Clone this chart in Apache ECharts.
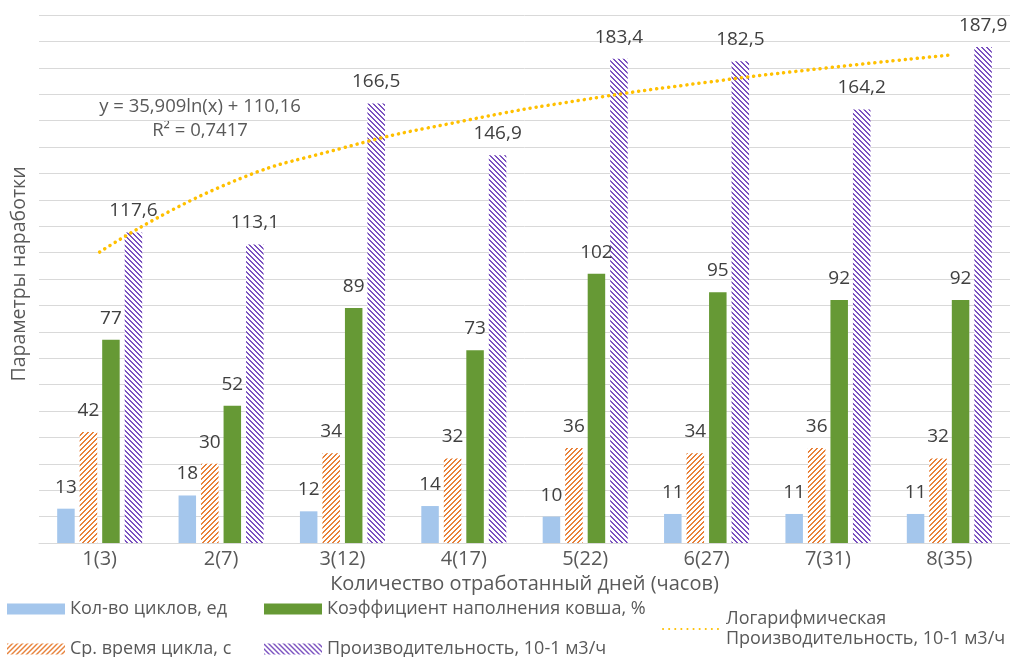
<!DOCTYPE html>
<html>
<head>
<meta charset="utf-8">
<script src="https://cdn.jsdelivr.net/npm/echarts@6/dist/echarts.min.js"></script>
<style>
  html, body { margin: 0; padding: 0; background: #fff; }
  #chart { width: 1010px; height: 657px; }
</style>
</head>
<body>
<div id="chart"></div>
<script>
// данные с графика
const categories = ['1(3)', '2(7)', '3(12)', '4(17)', '5(22)', '6(27)', '7(31)', '8(35)'];
const cycles = [13, 18, 12, 14, 10, 11, 11, 11];
const cycleTime = [42, 30, 34, 32, 36, 34, 36, 32];
const fillRatio = [77, 52, 89, 73, 102, 95, 92, 92];
const productivity = [117.6, 113.1, 166.5, 146.9, 183.4, 182.5, 164.2, 187.9];
// линия тренда (как видна на рисунке)
const trend = [110.2, 135.0, 149.6, 159.9, 168.0, 174.5, 180.0, 184.8];

const FONT = '"Open Sans", sans-serif';

// штриховка как в Excel
function hatch(color, up) {
    const size = 5;
    const c = document.createElement('canvas');
    c.width = size;
    c.height = size;
    const ctx = c.getContext('2d');
    ctx.fillStyle = '#fff';
    ctx.fillRect(0, 0, size, size);
    ctx.fillStyle = color;
    for (let i = 0; i < size; i++) {
        let y = up ? size - 1 - i : i;
        ctx.fillRect(i, y, 1, 1);
        ctx.fillRect(i, (y + 1) % size, 1, 1);
    }
    return { image: c, repeat: 'repeat' };
}

const labelCfg = {
    show: true,
    position: 'top',
    distance: 12,
    fontFamily: FONT,
    fontSize: 19,
    color: '#404040',
    formatter: p => String(p.value).replace('.', ',')
};

const chart = echarts.init(document.getElementById('chart'));

const legendBase = {
    selectedMode: false,
    icon: 'rect',
    itemWidth: 58,
    itemHeight: 11,
    textStyle: { fontFamily: FONT, fontSize: 18, color: '#595959' }
};

const option = {
    backgroundColor: '#fff',
    animation: false,
    grid: { left: 39, top: 15, width: 975, bottom: 114 },
    legend: [
        Object.assign({}, legendBase, { left: 2, top: 595, data: ['Кол-во циклов, ед'] }),
        Object.assign({}, legendBase, { left: 259, top: 595, data: ['Коэффициент наполнения ковша, %'] }),
        Object.assign({}, legendBase, { left: 2, top: 635, data: ['Ср. время цикла, с'] }),
        Object.assign({}, legendBase, { left: 259, top: 635, data: ['Производительность, 10-1 м3/ч'] }),
        {
            selectedMode: false,
            left: 657, top: 604,
            itemWidth: 58,
            itemHeight: 6,
            itemStyle: { color: 'rgba(0,0,0,0)', borderWidth: 0 },
            data: ['Логарифмическая (Производительность, 10-1 м3/ч)'],
            formatter: () => 'Логарифмическая\nПроизводительность, 10-1 м3/ч',
            textStyle: { fontFamily: FONT, fontSize: 18, color: '#595959', lineHeight: 20 }
        }
    ],
    xAxis: {
        type: 'category',
        data: categories,
        name: 'Количество отработанный дней (часов)',
        nameLocation: 'middle',
        nameGap: 28,
        nameTextStyle: { fontFamily: FONT, fontSize: 20, color: '#595959' },
        axisLine: { lineStyle: { color: '#d9d9d9' } },
        axisTick: { show: false },
        axisLabel: { fontFamily: FONT, fontSize: 20, color: '#595959', margin: 6 }
    },
    yAxis: {
        type: 'value',
        min: 0,
        max: 200,
        interval: 10,
        name: 'Параметры наработки',
        nameLocation: 'middle',
        nameGap: 10,
        nameTextStyle: { fontFamily: FONT, fontSize: 19.5, color: '#595959', padding: [0, 0, 0, 10] },
        axisLabel: { show: false },
        axisLine: { show: false },
        axisTick: { show: false },
        splitLine: { lineStyle: { color: '#d9d9d9' } }
    },
    graphic: [{
        type: 'text',
        left: 200 - 120,
        top: 95,
        style: {
            text: 'y = 35,909ln(x) + 110,16\nR² = 0,7417',
            font: '18.5px ' + FONT,
            fill: '#595959',
            textAlign: 'center',
            lineHeight: 24,
            width: 240
        }
    }],
    series: [
        {
            name: 'Кол-во циклов, ед',
            type: 'bar',
            data: cycles,
            barWidth: 17.5,
            barGap: '28.6%',
            itemStyle: { color: '#a4c6ec' },
            label: labelCfg
        },
        {
            name: 'Ср. время цикла, с',
            type: 'bar',
            data: cycleTime,
            barWidth: 17.5,
            barGap: '28.6%',
            itemStyle: { color: hatch('#e8823a', true) },
            label: labelCfg
        },
        {
            name: 'Коэффициент наполнения ковша, %',
            type: 'bar',
            data: fillRatio,
            barWidth: 17.5,
            barGap: '28.6%',
            itemStyle: { color: '#669935' },
            label: labelCfg
        },
        {
            name: 'Производительность, 10-1 м3/ч',
            type: 'bar',
            data: productivity,
            barWidth: 17.5,
            barGap: '28.6%',
            itemStyle: { color: hatch('#7b52c0', false) },
            label: labelCfg
        },
        {
            name: 'Логарифмическая (Производительность, 10-1 м3/ч)',
            type: 'line',
            data: trend,
            smooth: true,
            symbol: 'none',
            z: 5,
            itemStyle: { color: '#ffc000' },
            lineStyle: { color: '#ffc000', width: 3.5, type: [0.1, 6], cap: 'round' }
        }
    ]
};

chart.setOption(option);
</script>
</body>
</html>
